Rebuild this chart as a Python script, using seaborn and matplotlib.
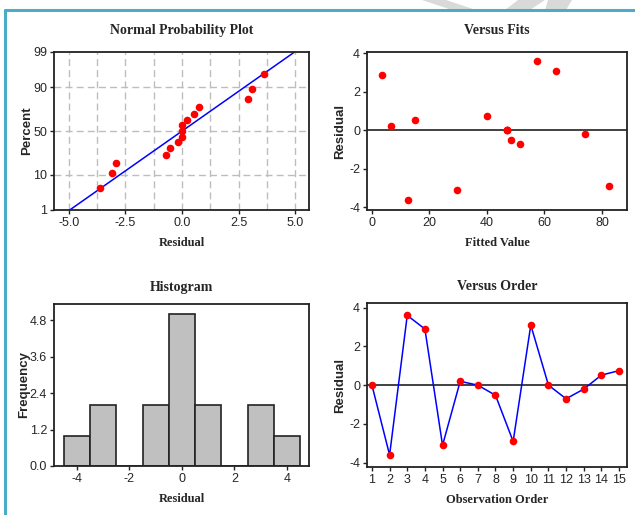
import numpy as np
import pandas as pd
import matplotlib
matplotlib.use("Agg")
import matplotlib.pyplot as plt
from matplotlib.patches import Polygon
from matplotlib.lines import Line2D
import seaborn as sns
from statistics import NormalDist

# ---------------- data ----------------
observation = list(range(1, 16))
residuals = [0.0, -3.6, 3.6, 2.9, -3.1, 0.2, 0.0, -0.52, -2.9, 3.1, 0.0, -0.7, -0.2, 0.52, 0.75]
fitted = [47.0, 12.5, 57.5, 3.5, 29.5, 6.5, 47.0, 48.5, 82.5, 64.0, 47.0, 51.5, 74.0, 15.0, 40.0]
hist_edges = [-4.5, -3.5, -2.5, -1.5, -0.5, 0.5, 1.5, 2.5, 3.5, 4.5]
prob_ticks = [1, 10, 50, 90, 99]
hist_yticks = [0.0, 1.2, 2.4, 3.6, 4.8]

df = pd.DataFrame({"obs": observation, "resid": residuals, "fit": fitted})

sns.set_theme(style="white")
plt.rcParams["font.family"] = ["Liberation Sans", "DejaVu Sans"]
plt.rcParams["axes.unicode_minus"] = False

W, H = 635, 515
fig = plt.figure(figsize=(W / 100, H / 100), dpi=100)
fig.patch.set_facecolor("white")

def add_ax(l, r, t, b):
    return fig.add_axes([l / W, 1 - b / H, (r - l) / W, (b - t) / H])

ax1 = add_ax(54, 309, 52, 210)
ax2 = add_ax(367, 627, 52, 210)
ax3 = add_ax(54, 309, 304, 466)
ax4 = add_ax(367, 627, 303, 467)

title_kw = dict(fontfamily="Liberation Serif", fontweight="bold", fontsize=10)
xlab_kw = dict(fontfamily="Liberation Serif", fontweight="bold", fontsize=9)
ylab_kw = dict(fontfamily=["Liberation Sans", "DejaVu Sans"], fontweight="bold", fontsize=9.5)

red = "#FF0000"
blue = "#0000FF"

def style(ax):
    for s in ax.spines.values():
        s.set_color("#222222")
        s.set_linewidth(1.3)
    ax.tick_params(axis="both", which="both", direction="out", length=3, width=1,
                   color="#222222", labelsize=9, pad=2, bottom=True, left=True)

# ---------------- Normal probability plot ----------------
nd = NormalDist()
n = len(residuals)
sorted_res = np.sort(residuals)
pp = [(i - 0.3) / (n + 0.4) for i in range(1, n + 1)]
zvals = [nd.inv_cdf(p) for p in pp]
mu = float(np.mean(residuals))
sd = float(np.std(residuals, ddof=1))
xl = np.array([-5.0, 5.0])
zl = (xl - mu) / sd
ax1.set_xlim(-5.65, 5.6)
zlo, zhi = nd.inv_cdf(0.01), nd.inv_cdf(0.99)
ax1.set_ylim(zlo, zhi)
for xg in np.arange(-5, 5.01, 1.25):
    ax1.axvline(xg, color="#BDBDBD", lw=1, ls=(0, (5, 3)), zorder=0)
for p in [10, 50, 90]:
    ax1.axhline(nd.inv_cdf(p / 100), color="#BDBDBD", lw=1, ls=(0, (5, 3)), zorder=0)
sns.lineplot(x=xl, y=zl, ax=ax1, color=blue, lw=1.1, zorder=2)
sns.scatterplot(x=sorted_res, y=zvals, ax=ax1, color=red, s=30, edgecolor=red, linewidth=0, zorder=3)
ax1.set_yticks([nd.inv_cdf(p / 100) for p in prob_ticks])
ax1.set_yticklabels([str(p) for p in prob_ticks])
ax1.set_xticks([-5.0, -2.5, 0.0, 2.5, 5.0])
ax1.set_xticklabels(["-5.0", "-2.5", "0.0", "2.5", "5.0"])
ax1.set_title("Normal Probability Plot", pad=13, **title_kw)
ax1.set_xlabel("Residual", **xlab_kw, labelpad=6)
ax1.set_ylabel("Percent", **ylab_kw, labelpad=0)
style(ax1)

# ---------------- Versus Fits ----------------
sns.scatterplot(data=df, x="fit", y="resid", ax=ax2, color=red, s=30, edgecolor=red, linewidth=0, zorder=3)
ax2.axhline(0, color="#333333", lw=1.3, zorder=1)
ax2.set_xlim(-1.7, 88.7)
ax2.set_ylim(-4.14, 4.07)
ax2.set_xticks([0, 20, 40, 60, 80])
ax2.set_yticks([-4, -2, 0, 2, 4])
ax2.set_title("Versus Fits", pad=13, **title_kw)
ax2.set_xlabel("Fitted Value", **xlab_kw, labelpad=6)
ax2.set_ylabel("Residual", **ylab_kw, labelpad=2)
style(ax2)

# ---------------- Histogram ----------------
sns.histplot(data=df, x="resid", bins=hist_edges, ax=ax3, color="#C0C0C0",
             edgecolor="#222222", linewidth=1.2, alpha=1)
ax3.set_xlim(-4.87, 4.84)
ax3.set_ylim(0, 5.33)
ax3.set_yticks(hist_yticks)
ax3.set_yticklabels([f"{v:.1f}" for v in hist_yticks])
ax3.set_xticks([-4, -2, 0, 2, 4])
ax3.set_title("Histogram", pad=9, **title_kw)
ax3.set_xlabel("Residual", **xlab_kw, labelpad=6)
ax3.set_ylabel("Frequency", **ylab_kw, labelpad=0)
style(ax3)

# ---------------- Versus Order ----------------
sns.lineplot(data=df, x="obs", y="resid", ax=ax4, color=blue, lw=1.1, zorder=2)
sns.scatterplot(data=df, x="obs", y="resid", ax=ax4, color=red, s=30, edgecolor=red, linewidth=0, zorder=3)
ax4.axhline(0, color="#333333", lw=1.3, zorder=1)
ax4.set_xlim(0.72, 15.45)
ax4.set_ylim(-4.22, 4.24)
ax4.set_xticks(observation)
ax4.set_yticks([-4, -2, 0, 2, 4])
ax4.set_title("Versus Order", pad=9, **title_kw)
ax4.set_xlabel("Observation Order", **xlab_kw, labelpad=6)
ax4.set_ylabel("Residual", **ylab_kw, labelpad=2)
style(ax4)

# ---------------- page decoration ----------------
wm = "#D9D9D9"
for pts in [[(422, 0), (446, 0), (476, 10), (452, 10)],
            [(518, 0), (545, 0), (530, 10), (505, 10)],
            [(548, 0), (572, 0), (566, 10), (545, 10)]]:
    fig.patches.append(Polygon([(x / W, 1 - y / H) for x, y in pts], closed=True,
                               transform=fig.transFigure, facecolor=wm, edgecolor="none", zorder=0))
border = "#4BACC6"
fig.add_artist(Line2D([5 / W, 1], [1 - 10 / H, 1 - 10 / H], color=border, lw=2.2, transform=fig.transFigure))
fig.add_artist(Line2D([5 / W, 5 / W], [0, 1 - 10 / H], color=border, lw=2.2, transform=fig.transFigure))

fig.savefig("out.png", dpi=100, facecolor="white")
